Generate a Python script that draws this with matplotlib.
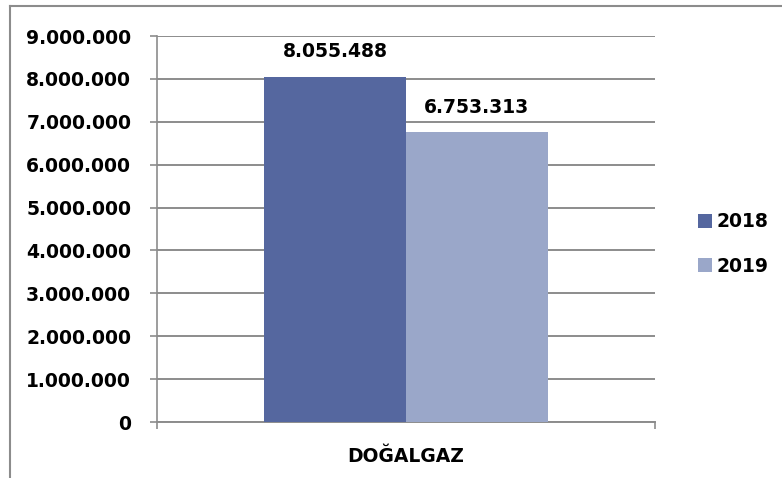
import matplotlib
matplotlib.use("Agg")
import matplotlib.pyplot as plt

categories = ["DOĞALGAZ"]
series_names = ["2018", "2019"]
values_2018 = [8055488]
values_2019 = [6753313]
yticks = [0, 1000000, 2000000, 3000000, 4000000, 5000000, 6000000, 7000000, 8000000, 9000000]
colors = ["#55679F", "#9AA7C9"]

def fmt(v):
    return f"{int(v):,}".replace(",", ".")

plt.rcParams['font.family'] = ['DejaVu Sans']
fig = plt.figure(figsize=(7.82, 4.78), dpi=100)
W, H = 782, 478
ax = fig.add_axes([157/W, 1-422/H, (655-157)/W, (422-36)/H])

FS = 13.5
bw = 0.285
for i, (name, vals, c) in enumerate(zip(series_names, [values_2018, values_2019], colors)):
    off = (i - 0.5) * bw
    bars = ax.bar([off], vals, width=bw, color=c, label=name, zorder=3)
    for b, v in zip(bars, vals):
        ax.annotate(fmt(v), (b.get_x() + b.get_width()/2, v), xytext=(0, 11),
                    textcoords="offset points", ha="center", va="bottom",
                    fontsize=FS, fontweight="bold", color="black")

ax.set_xlim(-0.5, 0.5)
ax.set_ylim(0, 9000000)
ax.set_yticks(yticks)
ax.set_yticklabels([fmt(t) for t in yticks], fontsize=FS, fontweight="bold")
ax.set_xticks([-0.5, 0.5])
ax.set_xticklabels(["", ""])
ax.tick_params(axis="y", length=5, width=1.2, color="#8c8c8c", pad=13.5)
ax.tick_params(axis="x", length=5, width=1.2, color="#8c8c8c")
ax.grid(axis="y", color="#8c8c8c", linewidth=1.4, zorder=0)
for s in ["top", "right"]:
    ax.spines[s].set_visible(False)
ax.spines["left"].set_color("#8c8c8c")
ax.spines["left"].set_linewidth(1.2)
ax.spines["bottom"].set_color("#8c8c8c")
ax.spines["bottom"].set_linewidth(1.4)
ax.text(0, -0.09, categories[0], transform=ax.get_xaxis_transform(), ha="center",
        va="center", fontsize=FS, fontweight="bold")

leg = fig.legend(loc="center left", bbox_to_anchor=(681/W, 1-244/H), frameon=False,
                 prop={"size": FS, "weight": "bold"}, handlelength=0.75,
                 handleheight=0.75, handletextpad=0.25, labelspacing=1.35)

# outer chart frame
fig.add_artist(plt.Line2D([10/W, 10/W], [0, 1-6/H], color="#8c8c8c", lw=1.5, transform=fig.transFigure))
fig.add_artist(plt.Line2D([10/W, 1], [1-6/H, 1-6/H], color="#8c8c8c", lw=1.5, transform=fig.transFigure))

fig.savefig("out.png", dpi=100)
